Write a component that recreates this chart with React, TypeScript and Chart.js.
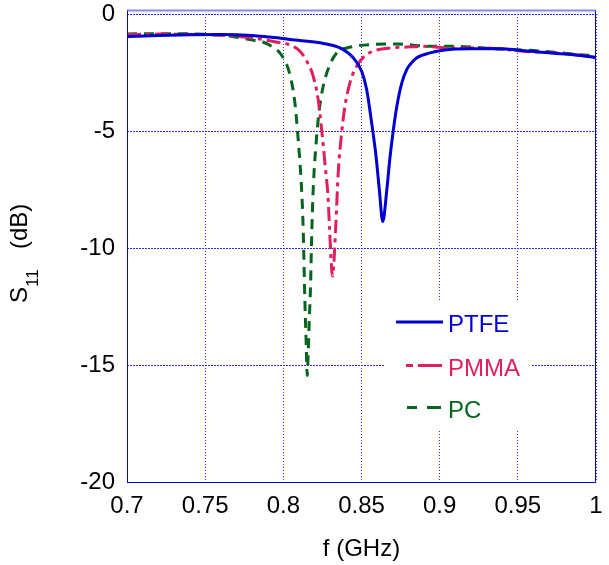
import { useEffect, useRef } from 'react';
import { Chart, registerables } from 'chart.js';

Chart.register(...registerables);

const FONT = '"Liberation Sans", Arial, Helvetica, sans-serif';

// ---- data ----
const xTicks = [0.7, 0.75, 0.8, 0.85, 0.9, 0.95, 1];
const xTickLabels = ['0.7', '0.75', '0.8', '0.85', '0.9', '0.95', '1'];
const yTicks = [-20, -15, -10, -5, 0];
const yTickLabels = ['-20', '-15', '-10', '-5', '0'];

const seriesNames = ['PTFE', 'PMMA', 'PC'];

const ptfeF = [0.700, 0.720, 0.740, 0.760, 0.780, 0.790, 0.800, 0.8042, 0.8234, 0.8362, 0.8447, 0.8501, 0.8533, 0.8565, 0.8593, 0.8614, 0.8636, 0.8662, 0.8683, 0.8704, 0.8726, 0.8758, 0.879, 0.8811, 0.8854, 0.8939, 0.900, 0.910, 0.920, 0.940, 0.950, 0.960, 0.970, 0.980, 0.990, 1.000];
const ptfeS = [-0.96, -0.92, -0.89, -0.88, -0.92, -0.98, -1.05, -1.09, -1.23, -1.45, -1.87, -2.45, -3.23, -4.66, -6.08, -7.51, -8.87, -7.51, -6.08, -4.94, -3.94, -2.94, -2.37, -2.16, -1.87, -1.66, -1.57, -1.50, -1.48, -1.48, -1.55, -1.60, -1.66, -1.71, -1.77, -1.86];

const pmmaF = [0.700, 0.720, 0.750, 0.770, 0.787, 0.795, 0.8042, 0.810, 0.8138, 0.8191, 0.8223, 0.8245, 0.8266, 0.8287, 0.8295, 0.8315, 0.8335, 0.8351, 0.8373, 0.8394, 0.8426, 0.8469, 0.8533, 0.8683, 0.877, 0.890, 0.9035, 0.928, 0.9535, 0.982, 1.000];
const pmmaS = [-0.88, -0.86, -0.88, -0.95, -1.09, -1.2, -1.32, -1.55, -1.88, -2.66, -3.66, -4.94, -6.37, -7.94, -9.1, -11.2, -9.1, -6.8, -5.08, -3.94, -2.94, -2.23, -1.73, -1.45, -1.42, -1.38, -1.45, -1.45, -1.59, -1.7, -1.85];

const pcF = [0.700, 0.720, 0.750, 0.765, 0.7785, 0.788, 0.7925, 0.797, 0.800, 0.8042, 0.8074, 0.8095, 0.8117, 0.8127, 0.8138, 0.8145, 0.8153, 0.8159, 0.8166, 0.8174, 0.8181, 0.8191, 0.8208, 0.823, 0.8255, 0.8298, 0.8351, 0.8405, 0.8512, 0.8726, 0.894, 0.9078, 0.9228, 0.934, 0.960, 0.977, 1.000];
const pcS = [-0.85, -0.84, -0.87, -0.94, -1.09, -1.23, -1.38, -1.6, -1.88, -2.59, -3.8, -5.37, -7.51, -9.2, -12.3, -13.8, -15.45, -14.5, -13.07, -11.65, -9.6, -7.51, -5.66, -4.09, -3.09, -2.16, -1.59, -1.45, -1.33, -1.28, -1.38, -1.38, -1.42, -1.48, -1.56, -1.66, -1.8];

const colors = ['#0000d2', '#e01e5f', '#05641e'];
const dashes: number[][] = [[], [14, 5, 4, 5], [10, 7]];
const legendDashes: number[][] = [[], [7, 5, 24, 5], [10, 10, 14, 10]];

const toPts = (f: number[], s: number[]) => f.map((v, i) => ({ x: v, y: s[i] }));

const GRID = '#2a2aff';

const framePlugin = {
  id: 'frameAndLegend',
  afterDatasetsDraw(chart: any) {
    const { ctx, chartArea } = chart;
    const { left, right, top, bottom } = chartArea;
    ctx.save();
    // legend box
    const bx = left + 258, by = top + 287, bw = 147, bh = 129;
    ctx.fillStyle = '#ffffff';
    ctx.fillRect(bx, by, bw, bh);
    const rows = [top + 308, top + 351.5, top + 393.5];
    const lineStart = [left + 269, left + 279, left + 280];
    const lineEnd = left + 316;
    chart.data.datasets.forEach((ds: any, i: number) => {
      ctx.beginPath();
      ctx.setLineDash(legendDashes[i]);
      ctx.strokeStyle = ds.borderColor;
      ctx.lineWidth = 3;
      ctx.moveTo(lineStart[i], rows[i]);
      ctx.lineTo(lineEnd, rows[i]);
      ctx.stroke();
      ctx.setLineDash([]);
      ctx.fillStyle = ds.borderColor;
      ctx.font = `24px ${FONT}`;
      ctx.textAlign = 'left';
      ctx.textBaseline = 'alphabetic';
      ctx.fillText(ds.label, left + 321, rows[i] + 10);
    });
    // frame
    ctx.strokeStyle = '#0000dd';
    ctx.lineWidth = 1;
    ctx.beginPath();
    ctx.moveTo(left + 0.5, top - 3.5);
    ctx.lineTo(left + 0.5, bottom + 0.5);
    ctx.lineTo(right - 0.5, bottom + 0.5);
    ctx.lineTo(right - 0.5, top - 3.5);
    ctx.stroke();
    ctx.strokeStyle = 'rgba(40,40,230,0.55)';
    ctx.lineWidth = 2;
    ctx.beginPath();
    ctx.moveTo(left, top - 3.5);
    ctx.lineTo(right, top - 3.5);
    ctx.stroke();
    // y title with subscript
    ctx.fillStyle = '#000';
    ctx.translate(27, 303);
    ctx.rotate(-Math.PI / 2);
    ctx.textAlign = 'left';
    ctx.textBaseline = 'alphabetic';
    ctx.font = `24px ${FONT}`;
    ctx.fillText('S', 0, 0);
    ctx.font = `17px ${FONT}`;
    ctx.fillText('11', 16, 11);
    ctx.font = `24px ${FONT}`;
    ctx.fillText('(dB)', 54, 0);
    ctx.restore();
  },
};

export default function App() {
  const ref = useRef<HTMLCanvasElement>(null);
  useEffect(() => {
    const pts = [toPts(ptfeF, ptfeS), toPts(pmmaF, pmmaS), toPts(pcF, pcS)];
    const chart = new Chart(ref.current!, {
      type: 'line',
      data: {
        datasets: seriesNames.map((name, i) => ({
          label: name,
          data: pts[i],
          borderColor: colors[i],
          backgroundColor: colors[i],
          borderWidth: 3,
          borderDash: dashes[i],
          pointRadius: 0,
          fill: false,
          cubicInterpolationMode: 'monotone' as const,
        })),
      },
      options: {
        responsive: false,
        animation: false,
        devicePixelRatio: 1,
        layout: { padding: { left: 0, right: 13, top: 14, bottom: 0 } },
        plugins: { legend: { display: false }, tooltip: { enabled: false } },
        scales: {
          x: {
            type: 'linear',
            min: 0.7,
            max: 1,
            afterBuildTicks: (s: any) => { s.ticks = xTicks.map((v) => ({ value: v })); },
            afterFit: (s: any) => { s.height = 83; s.paddingLeft = 0; s.paddingRight = 0; },
            ticks: {
              callback: (_v: any, i: number) => xTickLabels[i],
              color: '#000',
              font: { family: FONT, size: 24 },
              padding: 10,
              maxRotation: 0,
              autoSkip: false,
            },
            grid: { color: GRID, lineWidth: 1, drawTicks: false, tickLength: 0 },
            border: { display: false, dash: [1, 2] },
            title: {
              display: true,
              text: 'f (GHz)',
              color: '#000',
              font: { family: FONT, size: 24 },
              padding: { top: 0, bottom: 1 },
            },
          },
          y: {
            type: 'linear',
            min: -20,
            max: 0,
            afterBuildTicks: (s: any) => { s.ticks = yTicks.map((v) => ({ value: v })); },
            afterFit: (s: any) => { s.width = 127; s.paddingTop = 0; s.paddingBottom = 0; },
            ticks: {
              callback: (_v: any, i: number) => yTickLabels[i],
              color: '#000',
              font: { family: FONT, size: 24 },
              padding: 12,
              autoSkip: false,
            },
            grid: { color: GRID, lineWidth: 1, drawTicks: false, tickLength: 0 },
            border: { display: false, dash: [2, 1] },
          },
        },
      },
      plugins: [framePlugin],
    } as any);
    return () => chart.destroy();
  }, []);
  return (
    <div style={{ position: 'fixed', left: 0, top: 0, width: 609, height: 565, background: '#fff' }}>
      <canvas ref={ref} width={609} height={565} style={{ display: 'block', width: 609, height: 565 }} />
    </div>
  );
}
